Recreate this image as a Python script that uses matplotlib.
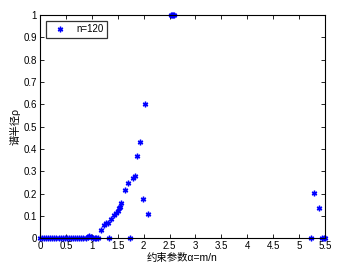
import numpy as np
import matplotlib
matplotlib.use('Agg')
import matplotlib.pyplot as plt

plt.rcParams['font.family'] = ['Liberation Sans', 'Noto Sans CJK SC', 'DejaVu Sans']

# 数据
alpha_zero = [0.0, 0.04, 0.08, 0.12, 0.16, 0.2, 0.24, 0.28, 0.32, 0.36, 0.4,
              0.44, 0.48, 0.52, 0.56, 0.6, 0.64, 0.68, 0.72, 0.76, 0.8, 0.84,
              0.88, 0.92, 0.95, 0.98, 1.02, 1.06, 1.09, 1.12, 1.33, 1.74,
              5.23, 5.43, 5.47, 5.5]
rho_zero = [0, 0, 0, 0, 0, 0, 0, 0, 0, 0, 0,
            0, 0, 0, 0, 0, 0, 0, 0, 0, 0, 0,
            0, 0.006, 0.01, 0.005, 0, 0, 0, 0, 0, 0,
            0, 0, 0, 0]
alpha_up = [1.18, 1.24, 1.27, 1.31, 1.38, 1.43, 1.47, 1.50, 1.53, 1.54, 1.56,
            1.64, 1.69, 1.80, 1.83, 1.88, 1.93, 1.98, 2.03, 2.08,
            2.52, 2.54, 2.56, 2.58, 5.28, 5.39]
rho_up = [0.036, 0.06, 0.067, 0.068, 0.085, 0.104, 0.112, 0.122, 0.134, 0.139, 0.156,
          0.216, 0.249, 0.268, 0.277, 0.368, 0.429, 0.177, 0.599, 0.107,
          1.0, 1.0, 1.0, 1.0, 0.201, 0.137]

alpha = alpha_zero + alpha_up
rho = rho_zero + rho_up

fig = plt.figure(figsize=(3.38, 2.66), dpi=100)
ax = fig.add_axes([0.118, 0.104, 0.844, 0.84])
ax.plot(alpha, rho, linestyle='none', marker=(6, 2, 0), color='b',
        markersize=4, markeredgewidth=1.0, label='n=120', clip_on=False)
ax.set_xlim(0, 5.5)
ax.set_ylim(0, 1)
ax.set_xticks(np.arange(0, 5.51, 0.5))
ax.set_xticklabels(['0', '0.5', '1', '1.5', '2', '2.5', '3', '3.5', '4', '4.5', '5', '5.5'])
ax.set_yticks(np.arange(0, 1.01, 0.1))
ax.set_yticklabels(['0', '0.1', '0.2', '0.3', '0.4', '0.5', '0.6', '0.7', '0.8', '0.9', '1'])
ax.tick_params(direction='in', top=True, right=True, labelsize=7, length=3, width=0.6, pad=2)
for s in ax.spines.values():
    s.set_linewidth(0.8)
ax.set_xlabel('约束参数α=m/n', fontsize=7.5, labelpad=1)
ax.set_ylabel('谱半径ρ', fontsize=7.5, labelpad=2)
leg = ax.legend(loc='upper left', fontsize=7, frameon=True, fancybox=False,
                edgecolor='k', borderpad=0.35, handlelength=2.2, handletextpad=0.6,
                bbox_to_anchor=(0.005, 0.995))
leg.get_frame().set_linewidth(0.9)
fig.savefig('out.png', dpi=100)
